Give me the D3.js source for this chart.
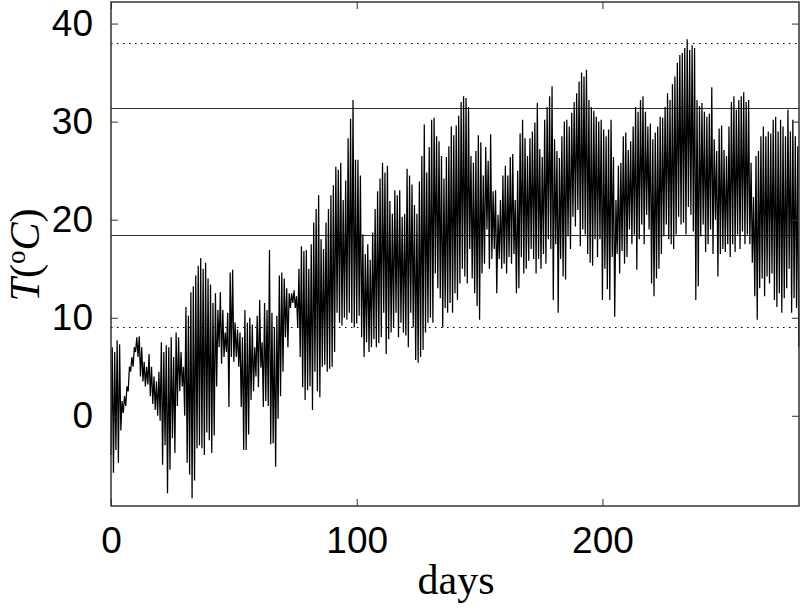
<!DOCTYPE html>
<html>
  <head>
    <meta charset="UTF-8">
    <title>T vs days</title>
    <script src="https://d3js.org/d3.v7.min.js"></script>
    <style>
      body { margin: 0; background: #fff; }
      .tick text { font-family: "Liberation Sans", Arial, sans-serif; font-size: 37px; fill: #000; }
      .tick line { stroke: #333; }
    </style>
  </head>

  <body>
    <div class="chart"></div>

    <script type="application/javascript">
      // daily minimum / maximum temperature, one entry per day (0..279)
      const lo = [
        -4.0,-5.8,-3.5,-4.8,-1.5,0.3,1.0,2.5,4.5,5.0,
        6.5,6.0,4.0,3.5,3.0,3.2,2.0,1.2,0.6,0.0,
        -0.5,-5.0,-3.0,-7.9,-5.5,-2.3,-3.8,1.0,2.5,3.0,
        0.0,-4.8,-6.0,-8.4,-6.6,-3.3,-3.0,-3.3,-4.0,-1.7,
        -2.5,-3.8,-2.0,3.0,7.0,5.3,6.0,6.5,0.9,6.0,
        5.5,6.0,5.0,0.9,-3.5,-3.5,-1.9,1.6,2.5,4.0,
        2.9,4.9,0.9,1.5,1.0,-2.9,-2.8,-5.2,-0.3,2.0,
        4.5,8.0,7.0,11.0,11.5,11.0,9.0,6.0,2.9,1.6,
        2.6,3.0,0.6,4.5,2.5,1.9,5.0,5.2,4.5,4.8,
        5.0,6.5,10.5,9.5,9.2,10.0,9.8,10.5,9.5,9.0,
        9.4,10.2,8.0,6.0,7.5,6.5,7.0,7.8,7.0,7.4,
        8.0,10.5,6.3,7.8,8.5,9.0,10.5,8.0,9.5,8.5,
        8.2,7.0,10.5,9.0,5.7,5.4,6.0,6.7,8.5,9.5,
        10.0,9.5,14.5,13.0,12.0,9.0,11.0,10.5,11.5,10.5,
        12.5,11.8,13.5,15.0,14.2,13.5,17.0,14.0,12.5,11.2,
        9.8,14.5,15.5,19.0,15.0,16.0,17.0,12.5,16.0,15.0,
        15.5,14.5,16.2,15.5,16.5,12.5,13.0,16.2,14.5,15.0,
        15.8,17.0,16.0,14.5,16.0,15.0,16.5,15.5,18.0,17.0,
        11.8,17.5,10.5,16.0,14.2,13.9,18.3,17.0,20.3,19.3,
        21.0,17.3,19.0,18.5,16.5,15.6,15.3,18.0,16.2,18.0,
        11.8,15.0,12.9,11.8,16.2,10.1,16.5,14.5,16.8,15.5,
        16.2,19.0,17.5,18.5,14.9,18.0,19.5,17.5,20.5,19.0,
        13.5,12.2,14.0,15.0,16.5,18.3,19.5,18.0,17.5,17.0,
        18.5,20.3,19.5,19.7,18.5,21.3,20.5,18.8,11.8,13.2,
        18.3,19.5,16.7,17.5,19.0,16.5,20.0,14.2,16.5,17.0,
        16.7,17.5,16.2,17.5,16.7,18.5,17.0,18.8,17.5,18.5,
        17.5,15.6,12.2,9.8,13.0,14.0,12.2,14.2,13.5,14.5,
        11.8,11.1,12.5,10.5,12.0,13.0,15.0,10.5,12.0,11.0
      ];
      const hi = [
        7.0,6.5,7.7,7.3,1.5,2.0,3.0,5.0,6.0,7.0,
        8.0,8.1,7.0,5.5,5.0,6.3,5.0,4.0,3.5,4.5,
        7.5,6.5,7.2,7.0,8.0,6.0,8.5,8.0,6.5,5.0,
        11.1,10.2,12.6,13.2,14.3,15.3,16.1,15.0,15.6,14.0,
        13.4,11.5,12.5,10.8,12.6,10.8,8.5,10.5,14.6,14.9,
        9.5,8.8,8.5,8.0,10.8,9.5,10.0,9.3,7.0,10.2,
        11.8,7.5,11.5,10.8,16.9,10.5,9.0,10.2,14.3,14.6,
        14.0,13.0,12.5,12.5,12.8,12.2,15.0,17.3,16.8,16.9,
        15.0,17.5,19.7,21.1,22.5,18.0,17.0,19.7,21.1,22.5,
        23.5,25.4,25.1,25.8,22.0,24.0,28.3,30.3,32.2,26.1,
        26.1,24.5,18.5,16.5,17.5,15.9,18.7,21.1,22.9,24.2,
        25.8,24.8,25.5,21.9,20.6,23.0,22.5,23.0,20.3,20.6,
        25.2,24.5,23.6,21.5,20.6,23.9,26.5,29.7,24.8,27.4,
        30.2,30.4,28.5,28.0,26.5,24.2,26.4,27.5,29.5,28.6,
        29.6,30.6,32.0,32.6,32.4,31.5,26.5,25.8,27.0,28.6,
        27.9,24.5,27.4,26.0,28.7,22.9,23.0,20.5,22.0,24.5,
        25.5,24.5,26.4,26.7,22.0,25.0,28.8,30.2,28.3,26.5,
        28.3,29.0,29.9,31.9,27.2,26.4,30.2,31.5,32.6,33.6,
        28.2,27.0,26.3,28.5,30.0,30.2,29.5,30.9,32.0,32.9,
        34.1,35.0,34.6,35.3,32.2,31.5,31.1,30.5,30.0,30.2,
        29.2,28.5,29.2,30.2,26.4,22.0,25.5,25.8,28.5,28.9,
        27.1,28.0,29.5,31.5,31.0,32.2,32.6,31.0,29.5,29.8,
        28.2,28.9,29.5,30.5,30.4,31.5,32.9,32.2,33.8,34.6,
        36.0,36.8,37.0,37.5,38.4,37.3,37.8,37.5,32.2,31.6,
        31.9,31.0,30.5,30.8,33.5,28.2,27.0,29.3,29.6,27.1,
        26.5,29.5,32.0,32.6,31.2,32.2,32.6,33.0,32.0,32.2,
        25.8,22.3,26.5,27.0,28.5,29.5,28.5,29.0,28.8,30.2,
        30.5,29.0,30.2,29.5,28.5,31.2,29.0,30.2,28.5,27.5
      ];
      const lastValue = 7.0;

      const solidLevels = [31.4, 18.4];
      const dottedLevels = [38.0, 9.1];
      const xTicks = [0, 100, 200];
      const yTicks = [0, 10, 20, 30, 40];

      const width = 800, height = 609;
      const m = {left: 111, right: 1, top: 2, bottom: 103};

      const svg = d3.select(".chart").append("svg")
        .attr("width", width).attr("height", height);

      const x = d3.scaleLinear().domain([0, 280]).range([m.left, width - m.right]);
      const y = d3.scaleLinear().domain([-9.2, 42.2]).range([height - m.bottom, m.top]);

      // min in the morning, max in the afternoon
      const pts = [];
      lo.forEach((v, i) => {
        pts.push([i, v]);
        pts.push([i + 0.5, hi[i]]);
      });
      pts.push([279.9, lastValue]);

      const plot = svg.append("g");
      plot.selectAll(".solid").data(solidLevels).join("line")
        .attr("x1", x(0)).attr("x2", x(280))
        .attr("y1", d => Math.round(y(d)) + 0.5).attr("y2", d => Math.round(y(d)) + 0.5)
        .attr("stroke", "#333").attr("stroke-width", 1.2);
      plot.selectAll(".dotted").data(dottedLevels).join("line")
        .attr("x1", x(0)).attr("x2", x(280))
        .attr("y1", d => Math.round(y(d)) + 0.5).attr("y2", d => Math.round(y(d)) + 0.5)
        .attr("stroke", "#000").attr("stroke-width", 1.2)
        .attr("stroke-dasharray", "1.5,4.5");

      const line = d3.line().x(d => x(d[0])).y(d => y(d[1]));
      plot.append("path").datum(pts)
        .attr("d", line)
        .attr("fill", "none")
        .attr("stroke", "#000")
        .attr("stroke-width", 1.25);

      // axes, ticks pointing inward
      const left = svg.append("g").attr("transform", `translate(${x(0)},0)`)
        .call(d3.axisLeft(y).tickValues(yTicks).tickSize(-7).tickPadding(18));
      const bottom = svg.append("g").attr("transform", `translate(0,${y.range()[0]})`)
        .call(d3.axisBottom(x).tickValues(xTicks).tickSize(-7).tickPadding(21));
      svg.append("g").attr("transform", `translate(${x(280)},0)`)
        .call(d3.axisRight(y).tickValues(yTicks).tickSize(-7).tickFormat(""));
      svg.append("g").attr("transform", `translate(0,${y.range()[1]})`)
        .call(d3.axisTop(x).tickValues(xTicks).tickSize(-7).tickFormat(""));
      svg.selectAll(".domain").remove();
      bottom.selectAll("text").attr("dy", "0.71em");

      svg.append("rect")
        .attr("x", x(0)).attr("y", y.range()[1])
        .attr("width", x(280) - x(0)).attr("height", y.range()[0] - y.range()[1])
        .attr("fill", "none").attr("stroke", "#333").attr("stroke-width", 1.5);

      svg.append("text")
        .attr("x", 456).attr("y", 594)
        .attr("text-anchor", "middle")
        .style("font-family", "'Liberation Serif', 'Times New Roman', serif")
        .style("font-size", "42px")
        .text("days");

      const yl = svg.append("text")
        .attr("transform", "translate(39,255) rotate(-90)")
        .attr("text-anchor", "middle")
        .style("font-family", "'Liberation Serif', 'Times New Roman', serif")
        .style("font-size", "42px");
      yl.append("tspan").style("font-style", "italic").text("T");
      yl.append("tspan").text("(");
      yl.append("tspan").style("font-size", "27px").attr("dy", -14).text("o");
      yl.append("tspan").style("font-style", "italic").attr("dy", 14).text("C");
      yl.append("tspan").text(")");
    </script>
  </body>
</html>
